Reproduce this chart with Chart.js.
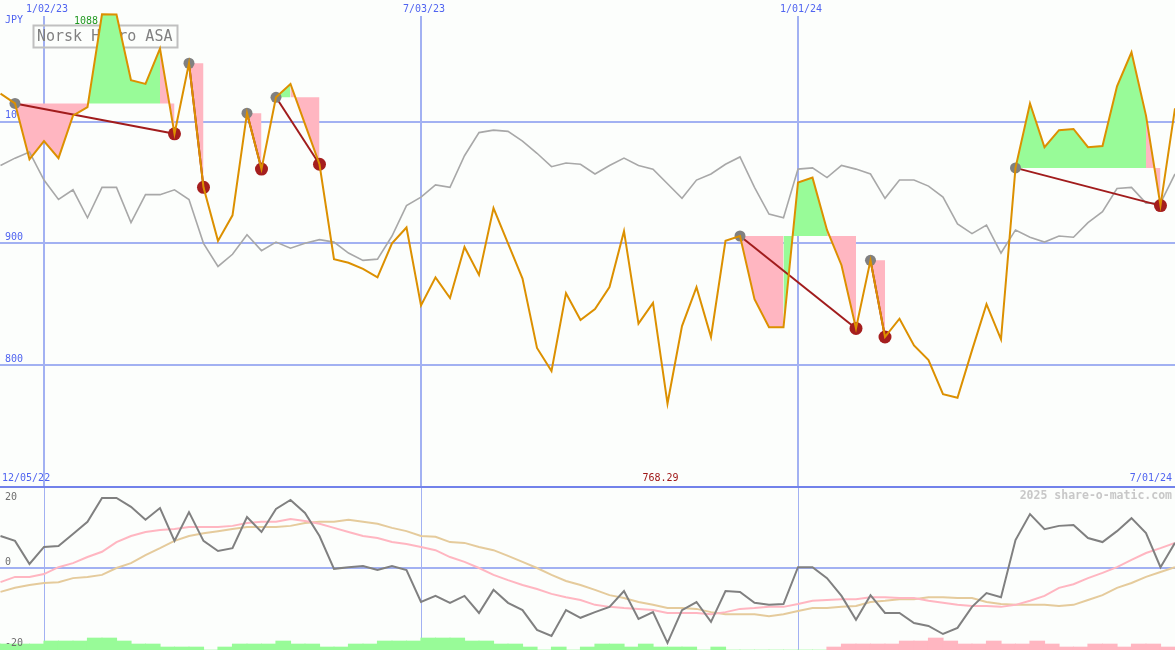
<!DOCTYPE html>
<html lang="en">
<head>
  <meta charset="UTF-8">
  <title>Norsk Hydro ASA</title>
  <script src="https://cdn.jsdelivr.net/npm/chart.js"></script>
  <style>
    html, body { margin: 0; padding: 0; background: #fcfefc; }
    #wrap { position: relative; width: 1175px; height: 650px; }
  </style>
</head>
<body>
  <div id="wrap"><canvas id="myChart" width="1175" height="650"></canvas></div>

  <script>
    // weekly data, first value is week -3 (week 0 = 1/02/23)
    var firstWeek = -3;

    // closing price, JPY
    var prices = [
      1023, 1015, 969, 984, 970, 1005, 1012, 1088.2, 1088, 1034,
      1031, 1060, 990, 1048, 946, 902, 923, 1007, 961, 1020,
      1031, 998, 965, 887, 884, 879, 872, 900, 913, 849,
      872, 855, 897, 874, 929, 900, 871, 814, 795, 859,
      837, 846, 864, 910, 834, 851, 768.29, 832, 864, 823,
      902, 906, 854, 831, 831, 950, 954, 911, 882, 830,
      886, 823, 838, 816, 804, 776, 773, 812, 850, 821,
      962, 1015, 979, 993, 994, 979, 980, 1029, 1057, 1005,
      931, 1011
    ];

    // comparison index (grey line), rescaled to price
    var indexLine = [
      964, 970, 975, 952, 936, 944, 921, 946, 946, 917,
      940, 940, 944, 936, 900, 881, 891, 907, 894, 901,
      896, 900, 903, 901, 892, 886, 887, 906, 931, 938,
      948, 946, 972, 991, 993, 992, 984, 974, 963, 966,
      965, 957, 964, 970, 964, 961, 949, 937, 952, 957,
      965, 971, 946, 924, 921, 961, 962, 954, 964, 961,
      957, 937, 952, 952, 947, 938, 916, 908, 915, 892,
      911, 905, 901, 906, 905, 917, 926, 945, 946, 933,
      933, 957
    ];

    // lower panel
    var momentum = [
      7.9, 6.7, 1.0, 5.2, 5.4, 8.4, 11.4, 17.3, 17.3, 15.1,
      11.9, 14.8, 6.7, 13.8, 6.7, 4.2, 4.9, 12.6, 8.9, 14.6,
      16.8, 13.6, 7.9, -0.2, 0.2, 0.5, -0.5, 0.5, -0.5, -8.4,
      -6.9, -8.6, -6.9, -11.1, -5.4, -8.6, -10.4, -15.3, -16.8, -10.4,
      -12.3, -10.9, -9.6, -5.7, -12.6, -10.9, -18.5, -10.4, -8.4, -13.3,
      -5.7, -5.9, -8.6, -9.1, -8.9, 0.2, 0.2, -2.5, -6.9, -12.8,
      -6.7, -11.1, -11.1, -13.6, -14.3, -16.3, -14.8, -9.6, -6.2, -7.2,
      6.9, 13.3, 9.6, 10.4, 10.6, 7.4, 6.4, 9.1, 12.3, 8.6,
      0.2, 6.2
    ];
    var momFast = [
      -3.5, -2.2, -2.2, -1.5, 0.2, 1.2, 2.7, 4.0, 6.4, 7.9,
      8.9, 9.4, 9.6, 10.1, 10.1, 10.1, 10.4, 11.1, 11.4, 11.4,
      12.1, 11.6, 10.9, 9.9, 8.9, 7.9, 7.4, 6.4, 5.9, 5.2,
      4.4, 2.7, 1.5, 0, -1.7, -3.0, -4.2, -5.2, -6.4, -7.2,
      -7.9, -9.1, -9.6, -9.9, -10.1, -10.4, -11.1, -11.1, -11.1, -11.4,
      -10.9, -10.1, -9.9, -9.6, -9.6, -8.9, -8.1, -7.9, -7.7, -7.7,
      -7.2, -7.2, -7.4, -7.4, -8.1, -8.6, -9.1, -9.4, -9.4, -9.6,
      -9.1, -8.1, -6.9, -4.9, -4.0, -2.5, -1.2, 0.2, 2.0, 3.7,
      4.9, 6.2
    ];
    var momSlow = [
      -5.9, -4.9, -4.2, -3.7, -3.5, -2.5, -2.2, -1.7, 0, 1.2,
      3.2, 4.9, 6.7, 7.9, 8.6, 9.1, 9.6, 10.1, 10.1, 10.1,
      10.4, 11.1, 11.4, 11.4, 11.9, 11.4, 10.9, 9.9, 9.1, 7.9,
      7.7, 6.4, 6.2, 5.2, 4.4, 3.0, 1.5, 0, -1.7, -3.2,
      -4.2, -5.4, -6.7, -7.4, -8.4, -9.1, -9.9, -9.9, -10.1, -10.9,
      -11.4, -11.4, -11.4, -11.9, -11.4, -10.6, -9.9, -9.9, -9.6, -9.4,
      -8.4, -8.1, -7.7, -7.7, -7.2, -7.2, -7.4, -7.4, -8.4, -8.9,
      -9.1, -9.1, -9.1, -9.4, -9.1, -7.9, -6.7, -4.9, -3.7, -2.2,
      -1.0, 0.2
    ];
    // strength bars at the bottom, + green / - pink
    var strength = [
      2, 2, 2, 2, 3, 3, 3, 4, 4, 3,
      2, 2, 1, 1, 1, 0, 1, 2, 2, 2,
      3, 2, 2, 1, 1, 2, 2, 3, 3, 3,
      4, 4, 4, 3, 3, 2, 2, 1, 0, 1,
      0, 1, 2, 2, 1, 2, 1, 1, 1, 0,
      1, 0, 0, 0, 0, 0, 0, 0, -1, -2,
      -2, -2, -2, -3, -3, -4, -3, -2, -2, -3,
      -2, -2, -3, -2, -1, -1, -2, -2, -1, -2,
      -2, -1
    ];

    // trend boxes: start week (grey dot) -> end week (red dot)
    var trendStart = [-2, 10, 14, 16, 48, 57, 67];
    var trendEnd = [9, 11, 15, 19, 56, 58, 77];

    var dateTicks = [0, 26, 52];
    var dateLabels = ['1/02/23', '7/03/23', '1/01/24'];
    var startLabel = '12/05/22';
    var endLabel = '7/01/24';
    var priceTicks = [800, 900, 1000];
    var momTicks = [20, 0, -20];

    var GREEN = '#98fb98';
    var PINK = '#ffb6c1';
    var GRID = '#a2b1f2';
    var BLUE = '#5064f0';
    var MONO = '"DejaVu Sans Mono", "Liberation Mono", monospace';

    function toPoints(arr) {
      return arr.map(function (v, i) { return { x: firstWeek + i, y: v }; });
    }
    function priceAt(w) { return prices[w - firstWeek]; }

    var fillSets = [];
    var trendLines = [];
    var startDots = [];
    var endDots = [];

    trendStart.forEach(function (s, t) {
      var e = trendEnd[t];
      var level = priceAt(s);
      var pts = [];
      for (var w = s; w <= e; w++) pts.push({ x: w, y: priceAt(w) });
      fillSets.push({
        data: pts,
        yAxisID: 'y',
        borderWidth: 0,
        borderColor: 'rgba(0,0,0,0)',
        backgroundColor: PINK,
        pointRadius: 0,
        fill: { target: { value: level } },
        segment: {
          backgroundColor: function (ctx) {
            return pts[ctx.p1DataIndex].y >= level ? GREEN : PINK;
          }
        }
      });
      trendLines.push({
        data: [{ x: s, y: level }, { x: e, y: priceAt(e) }],
        yAxisID: 'y',
        borderColor: '#a11c1c',
        borderWidth: 2,
        pointRadius: 0
      });
      startDots.push({ x: s, y: level });
      endDots.push({ x: e, y: priceAt(e) });
    });

    var panelPlugin = {
      id: 'panelPlugin',
      beforeDraw: function (chart) {
        var c = chart.ctx;
        c.save();
        c.fillStyle = '#fcfefc';
        c.fillRect(0, 0, chart.width, chart.height);
        c.restore();
      },
      beforeDatasetsDraw: function (chart) {
        var c = chart.ctx;
        var x = chart.scales.x, y = chart.scales.y, y2 = chart.scales.y2;
        var W = chart.width, H = chart.height;
        var sep = Math.round(y.getPixelForValue(700));

        function hline(py, x0, x1) { c.beginPath(); c.moveTo(x0, py); c.lineTo(x1, py); c.stroke(); }
        function vline(px, y0, y1) { c.beginPath(); c.moveTo(px, y0); c.lineTo(px, y1); c.stroke(); }

        c.save();
        // price grid
        c.strokeStyle = GRID;
        c.lineWidth = 2;
        priceTicks.forEach(function (v) { hline(Math.round(y.getPixelForValue(v)), 0, W); });
        dateTicks.forEach(function (w) { vline(Math.round(x.getPixelForValue(w)), 16, sep); });
        // lower panel grid
        hline(Math.round(y2.getPixelForValue(0)), 0, W);
        c.lineWidth = 1;
        dateTicks.forEach(function (w) { vline(Math.round(x.getPixelForValue(w)) + 0.5, sep, H); });
        // panel separator
        c.strokeStyle = '#7282ea';
        c.lineWidth = 2;
        hline(sep, 0, W);

        // texts
        c.font = '10px ' + MONO;
        c.fillStyle = BLUE;
        c.textBaseline = 'middle';
        c.textAlign = 'center';
        dateTicks.forEach(function (w, i) { c.fillText(dateLabels[i], x.getPixelForValue(w) + 3, 9); });
        c.textAlign = 'left';
        c.fillText('JPY', 5, 20);
        c.textBaseline = 'bottom';
        priceTicks.forEach(function (v) { c.fillText(String(v), 5, y.getPixelForValue(v) - 1); });
        c.textBaseline = 'middle';
        c.fillText(startLabel, 2, sep - 9);
        c.textAlign = 'right';
        c.fillText(endLabel, W - 3, sep - 9);

        // high / low
        var hi = Math.max.apply(null, prices), lo = Math.min.apply(null, prices);
        var hiW = firstWeek + prices.indexOf(hi), loW = firstWeek + prices.indexOf(lo);
        c.textAlign = 'center';
        c.textBaseline = 'middle';
        c.fillStyle = '#229922';
        c.fillText(hi.toFixed(2), x.getPixelForValue(hiW) - 7, y.getPixelForValue(hi) + 7);
        c.fillStyle = '#a01818';
        c.fillText(lo.toFixed(2), x.getPixelForValue(loW) - 7, sep - 9);

        // copyright
        c.font = 'bold 11.5px ' + MONO;
        c.fillStyle = '#c8c8c8';
        c.textAlign = 'right';
        c.fillText('2025 share-o-matic.com', W - 3, sep + 9);

        // name box
        c.strokeStyle = '#c0c0c0';
        c.lineWidth = 2;
        c.strokeRect(33.5, 25.5, 144, 22);
        c.font = '15px ' + MONO;
        c.fillStyle = '#808080';
        c.textAlign = 'left';
        c.fillText('Norsk Hydro ASA', 37, 37);
        c.restore();
      },
      afterDatasetsDraw: function (chart) {
        // lower panel scale labels sit on top of the bars
        var c = chart.ctx, y2 = chart.scales.y2;
        c.save();
        c.font = '10px ' + MONO;
        c.fillStyle = '#6e6e6e';
        c.textAlign = 'left';
        momTicks.forEach(function (v) {
          var py = y2.getPixelForValue(v);
          if (v > 0) { c.textBaseline = 'top'; c.fillText(String(v), 5, py + 5); }
          else { c.textBaseline = 'bottom'; c.fillText(String(v), 5, py - 1); }
        });
        c.restore();
      }
    };

    var datasets = [
      { data: toPoints(prices), yAxisID: 'y', borderColor: '#dc9000', borderWidth: 2, pointRadius: 0 },
      { data: endDots, yAxisID: 'y', showLine: false, pointRadius: 6.5, pointBackgroundColor: '#a51e1e', pointBorderWidth: 0 },
      { data: startDots, yAxisID: 'y', showLine: false, pointRadius: 5.5, pointBackgroundColor: '#808080', pointBorderWidth: 0 }
    ].concat(trendLines).concat([
      { data: toPoints(indexLine), yAxisID: 'y', borderColor: '#a8a8a8', borderWidth: 1.6, pointRadius: 0 }
    ]).concat(fillSets).concat([
      { data: toPoints(momentum), yAxisID: 'y2', borderColor: '#808080', borderWidth: 2, pointRadius: 0 },
      { data: toPoints(momFast), yAxisID: 'y2', borderColor: '#ffb6c1', borderWidth: 2, pointRadius: 0 },
      { data: toPoints(momSlow), yAxisID: 'y2', borderColor: '#e5cb9c', borderWidth: 2, pointRadius: 0 },
      {
        type: 'bar',
        data: strength.map(function (v, i) { return { x: firstWeek + i - 0.5, y: Math.abs(v) }; }),
        yAxisID: 'y3',
        barThickness: 15,
        borderWidth: 0,
        backgroundColor: function (ctx) { return strength[ctx.dataIndex] < 0 ? PINK : GREEN; }
      }
    ]);

    var ctx = document.getElementById('myChart').getContext('2d');
    var myChart = new Chart(ctx, {
      type: 'line',
      data: { datasets: datasets },
      options: {
        responsive: false,
        animation: false,
        devicePixelRatio: 1,
        events: [],
        layout: { padding: 0, autoPadding: false },
        elements: { point: { radius: 0, hoverRadius: 0 }, line: { tension: 0 } },
        plugins: { legend: { display: false }, tooltip: { enabled: false } },
        scales: {
          x: { type: 'linear', min: -3.034, max: 78, offset: false, display: false },
          y: { min: 565.7, max: 1100, display: false },
          y2: { min: -20.25, max: 140.25, display: false },
          y3: { min: 0, max: 216.67, display: false }
        }
      },
      plugins: [panelPlugin]
    });
  </script>
</body>
</html>
